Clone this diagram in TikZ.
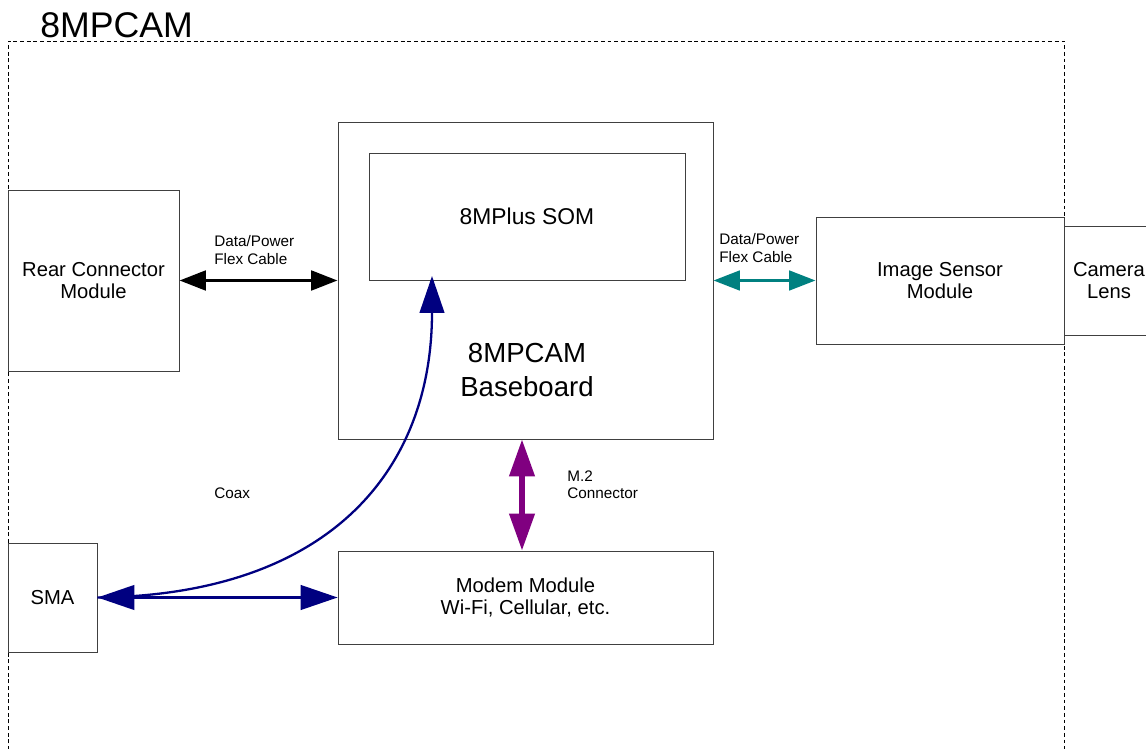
\documentclass[tikz,border=0pt]{standalone}
\usepackage{fontspec}
\setmainfont{Liberation Sans}
\usepackage{xcolor}
\usepackage{tikz}
\usetikzlibrary{arrows.meta, positioning, calc}
\definecolor{coaxblue}{RGB}{0,0,128}
\definecolor{flexteal}{RGB}{0,128,128}
\definecolor{mtwopurple}{RGB}{128,0,128}

\begin{document}
\begin{tikzpicture}[
  x=0.02cm, y=-0.02cm,
  every node/.style={font=\fontsize{11.5}{13}\selectfont},
  module/.style={draw=black!75, line width=0.5pt, rectangle, align=center, inner sep=0pt},
  smalllbl/.style={font=\fontsize{8.7}{9.8}\selectfont, align=left, anchor=west, inner sep=0pt},
  flexarrow/.style={{Triangle[length=15pt, width=11pt]}-{Triangle[length=15pt, width=11pt]}, line width=2.2pt},
  bigarrow/.style={{Triangle[length=21pt, width=14pt]}-{Triangle[length=21pt, width=14pt]}},
]
  \useasboundingbox (0,0) rectangle (1146,749);

  % Camera enclosure outline and title
  \draw[dash pattern=on 2.2pt off 1.6pt, line width=0.5pt]
      (8,770) -- (8,41) -- (1064,41) -- (1064,770);
  \node[anchor=west, inner sep=0pt, font=\fontsize{20.3}{24}\selectfont] (title) at (40,25) {8MPCAM};

  % Modules
  \node[module, minimum width=3.42cm, minimum height=3.62cm] (rear) at (93.5,280.5) {Rear Connector\\Module};
  \node[module, minimum width=7.5cm, minimum height=6.34cm] (base) at (525.5,280.5) {};
  \node[module, minimum width=6.32cm, minimum height=2.54cm, font=\fontsize{13}{15}\selectfont] (som) at (527,216.5) {8MPlus SOM};
  \node[font=\fontsize{15.7}{19}\selectfont, align=center] (baselbl) at (527,370) {8MPCAM\\Baseboard};
  \node[module, minimum width=4.96cm, minimum height=2.54cm] (sensor) at (940,280.5) {Image Sensor\\Module};
  \node[module, minimum width=1.8cm, minimum height=2.18cm] (lens) at (1109,280.5) {Camera\\Lens};
  \node[module, minimum width=1.78cm, minimum height=2.18cm] (sma) at (52.5,597.5) {SMA};
  \node[module, minimum width=7.5cm, minimum height=1.86cm] (modem) at (525.5,597.5) {Modem Module\\Wi-Fi, Cellular, etc.};

  % Flex cables
  \draw[flexarrow] (rear.east) -- (base.west);
  \draw[flexarrow, flexteal, line width=2pt] (base.east) -- (sensor.west);

  % M.2 link
  \coordinate (mtwo) at (522,500);
  \draw[bigarrow, mtwopurple, line width=3pt] (base.south -| mtwo) -- (modem.north -| mtwo);

  % Coax to modem and to SOM
  \coordinate (coaxend) at (432,276);
  \draw[bigarrow, coaxblue, line width=1.3pt] (sma.east) -- (modem.west);
  \draw[-{Triangle[length=21pt, width=14pt]}, coaxblue, line width=1.3pt]
      (sma.east) .. controls (330,595) and (432,470) .. (coaxend);

  % Labels
  \node[smalllbl] (flexl) at (214,250) {Data/Power\\Flex Cable};
  \node[smalllbl] (flexr) at (719,248) {Data/Power\\Flex Cable};
  \node[smalllbl] (coax) at (214,493) {Coax};
  \node[smalllbl] (mtwolbl) at (567,485) {M.2\\Connector};
\end{tikzpicture}
\end{document}
